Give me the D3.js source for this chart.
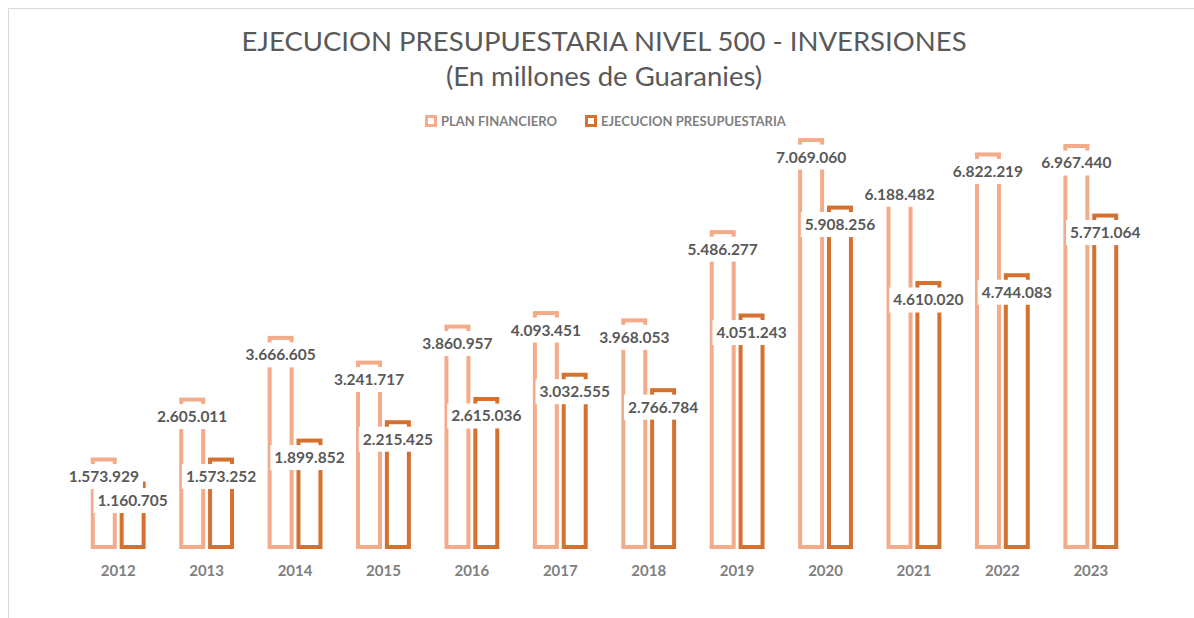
<!DOCTYPE html>
<html>
<head>
<meta charset="utf-8">
<script src="https://cdn.jsdelivr.net/npm/d3@7"></script>
<style>
  body { margin: 0; background: #fff; }
  svg { display: block; }
</style>
</head>
<body>
<script>
// chart data
const years = ["2012", "2013", "2014", "2015", "2016", "2017", "2018", "2019", "2020", "2021", "2022", "2023"];
const planFinanciero = [1573929, 2605011, 3666605, 3241717, 3860957, 4093451, 3968053, 5486277, 7069060, 6188482, 6822219, 6967440];
const ejecucion = [1160705, 1573252, 1899852, 2215425, 2615036, 3032555, 2766784, 4051243, 5908256, 4610020, 4744083, 5771064];
const seriesNames = ["PLAN FINANCIERO", "EJECUCION PRESUPUESTARIA"];

const width = 1194;
const height = 618;
const colors = ["#F4AB8A", "#D5702E"];
const fontFam = "Lato, 'Open Sans', sans-serif";

// one data label was moved by hand in the original
const labelNudge = { "PLAN FINANCIERO|2021": -14 };

const svg = d3.select("body")
    .append("svg")
    .attr("width", width)
    .attr("height", height);

// outer frame lines (top + left)
svg.append("path")
    .attr("d", `M8.5,${height} V8.5 H${width}`)
    .attr("fill", "none")
    .attr("stroke", "#d9d9d9")
    .attr("stroke-width", 1);

// title
const title = svg.append("text")
    .attr("text-anchor", "middle")
    .attr("fill", "#595959")
    .style("font-family", fontFam)
    .style("font-size", "27.5px");
title.append("tspan").attr("x", 604).attr("y", 51).text("EJECUCION PRESUPUESTARIA NIVEL 500 - INVERSIONES");
title.append("tspan").attr("x", 604).attr("y", 86).text("(En millones de Guaranies)");

const x0 = d3.scaleBand()
    .domain(years)
    .range([74, 1135])
    .paddingInner(0.38)
    .paddingOuter(0.19);

const x1 = d3.scaleBand()
    .domain(seriesNames)
    .range([0, x0.bandwidth()])
    .paddingInner(0.1);

const y = d3.scaleLinear()
    .domain([0, 8000000])
    .range([549, 84]);

const rows = years.map((yr, i) => ({
    year: yr,
    values: [
        { key: seriesNames[0], value: planFinanciero[i], c: 0 },
        { key: seriesNames[1], value: ejecucion[i], c: 1 }
    ]
}));

const fmt = d3.formatLocale({ decimal: ",", thousands: ".", grouping: [3], currency: ["", ""] }).format(",d");

const sw = 4;
const groups = svg.append("g").selectAll("g")
    .data(rows)
    .join("g")
    .attr("transform", d => `translate(${x0(d.year)},0)`);

groups.selectAll("rect")
    .data(d => d.values)
    .join("rect")
    .attr("x", d => x1(d.key) + sw / 2)
    .attr("width", x1.bandwidth() - sw)
    .attr("y", d => y(d.value) + sw / 2)
    .attr("height", d => y(0) - y(d.value) - sw)
    .attr("fill", "#fff")
    .attr("stroke", d => colors[d.c])
    .attr("stroke-width", sw);

// data labels (on top of all bars)
const labels = svg.append("g").selectAll("g")
    .data(rows.flatMap(r => r.values.map(v => ({ ...v, year: r.year }))))
    .join("g")
    .attr("transform", d => {
        const nudge = labelNudge[d.key + "|" + d.year] || 0;
        return `translate(${x0(d.year) + x1(d.key) + x1.bandwidth() / 2},${y(d.value) + 19 + nudge})`;
    });

labels.append("text")
    .attr("text-anchor", "middle")
    .attr("dy", "0.35em")
    .attr("fill", "#595959")
    .style("font-family", fontFam)
    .style("font-size", "15.5px")
    .style("font-weight", "bold")
    .text(d => fmt(d.value));

labels.each(function () {
    const g = d3.select(this);
    const bb = g.select("text").node().getBBox();
    g.insert("rect", "text")
        .attr("x", bb.x - 4)
        .attr("y", -12.5)
        .attr("width", bb.width + 8)
        .attr("height", 25)
        .attr("fill", "#fff");
});

// x axis labels
const xAxis = svg.append("g")
    .attr("transform", `translate(0,${y(0)})`)
    .call(d3.axisBottom(x0).tickSize(0).tickPadding(16));
xAxis.select(".domain").remove();
xAxis.selectAll("text")
    .attr("fill", "#7f7f7f")
    .style("font-family", fontFam)
    .style("font-size", "15px")
    .style("font-weight", "bold");

// legend
const legendX = [425, 585];
const legend = svg.append("g").selectAll("g")
    .data(seriesNames)
    .join("g")
    .attr("transform", (d, i) => `translate(${legendX[i]},121)`);
legend.append("rect")
    .attr("x", 1.5)
    .attr("y", -4.5)
    .attr("width", 9)
    .attr("height", 9)
    .attr("fill", "#fff")
    .attr("stroke", (d, i) => colors[i])
    .attr("stroke-width", 3);
legend.append("text")
    .attr("x", 16)
    .attr("dy", "0.35em")
    .attr("fill", "#7f7f7f")
    .style("font-family", fontFam)
    .style("font-size", "13px")
    .style("font-weight", "bold")
    .text(d => d);
</script>
</body>
</html>
